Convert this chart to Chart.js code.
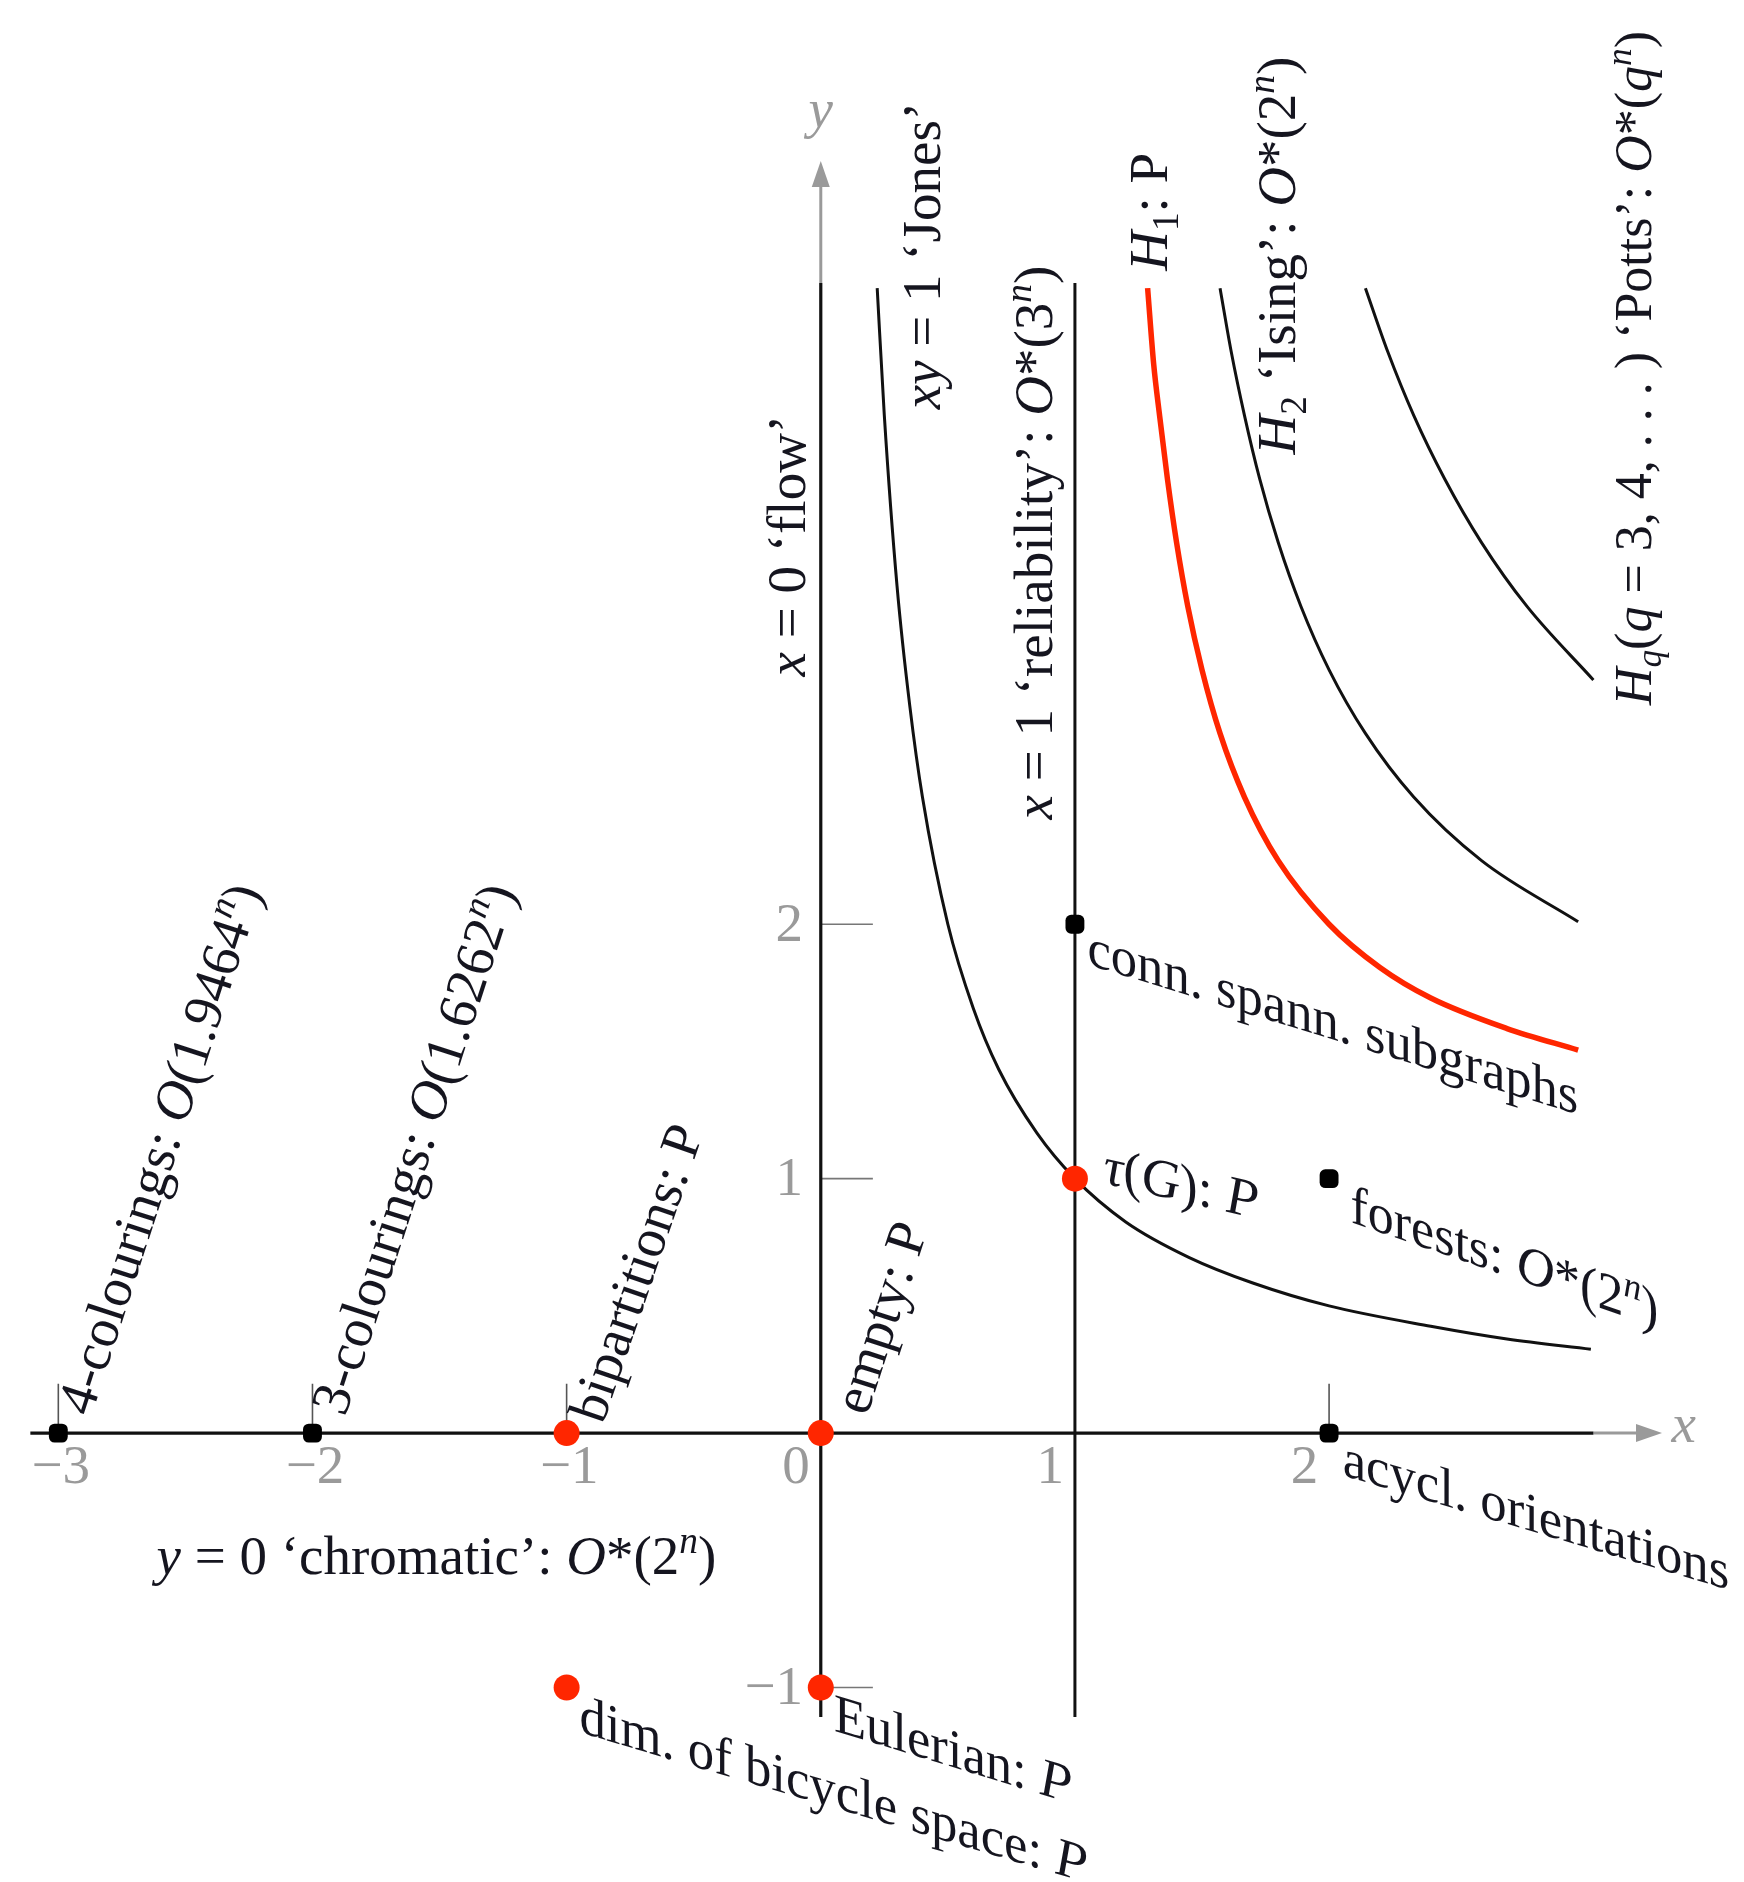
<!DOCTYPE html>
<html><head><meta charset="utf-8">
<script src="https://cdn.jsdelivr.net/npm/chart.js@4.4.1/dist/chart.umd.min.js"></script>
<style>html,body{margin:0;padding:0;background:#fff;}#wrap{width:1744px;height:1882px;position:relative;}</style>
</head><body><div id="wrap"><canvas id="c"></canvas></div>
<script>
// ---- data ----
const jonesCurve = [[0.222,4.5],[0.25,4.0],[0.3,3.33],[0.35,2.86],[0.4,2.5],[0.5,2.0],[0.6,1.67],[0.7,1.43],[0.85,1.18],[1.0,1.0],[1.2,0.83],[1.45,0.69],[1.7,0.59],[2.0,0.5],[2.4,0.42],[2.7,0.37],[3.03,0.33]];
const h1Curve = [[1.286,4.5],[1.31,4.2],[1.333,4.0],[1.364,3.75],[1.4,3.5],[1.444,3.25],[1.5,3.0],[1.571,2.75],[1.667,2.5],[1.8,2.25],[2.0,2.0],[2.2,1.83],[2.4,1.71],[2.7,1.59],[2.98,1.505]];
const h2Curve = [[1.571,4.5],[1.615,4.25],[1.667,4.0],[1.727,3.75],[1.8,3.5],[1.889,3.25],[2.0,3.0],[2.143,2.75],[2.333,2.5],[2.6,2.25],[2.98,2.01]];
const hqCurve = [[2.143,4.5],[2.231,4.25],[2.333,4.0],[2.455,3.75],[2.6,3.5],[2.778,3.25],[3.04,2.96]];
const xAxisLine = [[-3.11,0],[3.04,0]];
const xAxisArrow = [[3.04,0],[3.24,0]];
const yAxisLine = [[0,-1.116],[0,4.52]];
const yAxisArrow = [[0,4.52],[0,4.92]];
const xOneLine = [[1,-1.116],[1,4.52]];
const redPoints = [[-1,0],[0,0],[1,1],[0,-1],[-1,-1]];
const blackPoints = [[-3,0],[-2,0],[2,0],[1,2],[2,1]];
const xTickValues = [-3,-2,-1,0,1,2];
const xTickLabels = ['\u22123','\u22122','\u22121','0','1','2'];
const xTickMarks = [-3,-2,-1,2];
const yTickValues = [2,1,-1];
const yTickLabels = ['2','1','\u22121'];

// annotation texts: [segments], anchor (data coords), angle, shear
const labels = [
  {s:[['x','i'],[' = 0 \u2018flow\u2019','r']], x:-0.128, y:3.488, a:-90},
  {s:[['xy','i'],[' = 1 \u2018Jones\u2019','r']], x:0.403, y:4.628, a:-90},
  {s:[['x','i'],[' = 1 \u2018reliability\u2019: ','r'],['O','i'],['*','r'],['(3','r'],['n','sup'],[')','r']], x:0.846, y:3.5, a:-90},
  {s:[['H','i'],['1','sub'],[': P','r']], x:1.298, y:4.80, a:-90},
  {s:[['H','i'],['2','sub'],[' \u2018Ising\u2019: ','r'],['O','i'],['*','r'],['(2','r'],['n','sup'],[')','r']], x:1.80, y:4.628, a:-90},
  {s:[['H','i'],['q','subi'],['(','r'],['q','i'],[' = 3, 4, . . . ) \u2018Potts\u2019: ','r'],['O','i'],['*','r'],['(','r'],['q','i'],['n','sup'],[')','r']], x:3.205, y:4.186, a:-90, fs:52},
  {s:[['4-colourings: ','r'],['O','i'],['(1.9464','r'],['n','sup'],[')','r']], x:-2.597, y:1.116, a:-72},
  {s:[['3-colourings: ','r'],['O','i'],['(1.6262','r'],['n','sup'],[')','r']], x:-1.597, y:1.116, a:-72},
  {s:[['bipartitions: P','r']], x:-0.721, y:0.628, a:-71},
  {s:[['empty: P','r']], x:0.240, y:0.453, a:-72},
  {s:[['conn. spann. subgraphs','r']], x:2.015, y:1.612, a:17, sh:'v'},
  {s:[['\u03c4','i'],['(','r'],['G','i'],['): ','r'],['P','i']], x:1.419, y:0.976, a:13, sh:'v'},
  {s:[['forests: ','r'],['O','i'],['*','r'],['(2','r'],['n','sup'],[')','r']], x:2.69, y:0.686, a:19, sh:'v'},
  {s:[['acycl. orientations','r']], x:2.814, y:-0.326, a:16.5, sh:'v'},
  {s:[['y','i'],[' = 0 \u2018chromatic\u2019: ','r'],['O','i'],['*','r'],['(2','r'],['n','sup'],[')','r']], x:-1.512, y:-0.488, a:0},
  {s:[['Eulerian: ','r'],['P','i']], x:0.52, y:-1.248, a:17, sh:'v'},
  {s:[['dim. of bicycle space: ','r'],['P','i']], x:0.05, y:-1.407, a:16.5, sh:'v'}
];

const SERIF = '"Liberation Serif","Times New Roman",serif';
const TEXT = '#15151f';
const GRAY = '#9a9a9a';
const RED = 'rgb(255,38,0)';
const FS = 55;

function segFont(m, s){
  const it = (m==='i'||m==='sup'||m==='subi') ? 'italic ' : '';
  const sz = (m==='sup'||m==='sub'||m==='subi') ? s*0.68 : s;
  return it + sz + 'px ' + SERIF;
}
function segDy(m, s){ return m==='sup' ? -0.38*s : (m==='sub'||m==='subi') ? 0.2*s : 0; }
function drawRich(ctx, segs, px, py, ang, shear, size, color, align){
  ctx.save();
  let w = 0; const ws = [];
  segs.forEach(([t,m]) => { ctx.font = segFont(m,size); const ww = ctx.measureText(t).width; ws.push(ww); w += ww; });
  const a = ang*Math.PI/180;
  if (shear === 'v') ctx.setTransform(Math.cos(a), Math.sin(a), 0, 1, px, py);
  else ctx.setTransform(Math.cos(a), Math.sin(a), -Math.sin(a), Math.cos(a), px, py);
  ctx.fillStyle = color; ctx.textBaseline = 'alphabetic'; ctx.textAlign = 'left';
  let x = align==='right' ? -w : (align==='left' ? 0 : -w/2);
  segs.forEach(([t,m],i) => { ctx.font = segFont(m,size); ctx.fillText(t, x, 0.3*size + segDy(m,size)); x += ws[i]; });
  ctx.restore();
}
const pts = arr => arr.map(([x,y]) => ({x,y}));
function lineDs(arr, color, width){
  return {data: pts(arr), showLine:true, borderColor:color, borderWidth:width, pointRadius:0, fill:false, cubicInterpolationMode:'monotone', clip:false, borderCapStyle:'butt'};
}

const decor = {
  id:'decor',
  beforeDatasetsDraw(chart){
    const ctx = chart.ctx, xs = chart.scales.x, ys = chart.scales.y;
    ctx.save();
    ctx.strokeStyle = '#555'; ctx.lineWidth = 1.6;
    xTickMarks.forEach(v => { ctx.beginPath(); ctx.moveTo(xs.getPixelForValue(v), ys.getPixelForValue(0)); ctx.lineTo(xs.getPixelForValue(v), ys.getPixelForValue(0.194)); ctx.stroke(); });
    ctx.strokeStyle = '#777';
    yTickValues.forEach(v => { ctx.beginPath(); ctx.moveTo(xs.getPixelForValue(0), ys.getPixelForValue(v)); ctx.lineTo(xs.getPixelForValue(0.205), ys.getPixelForValue(v)); ctx.stroke(); });
    ctx.restore();
  },
  afterDatasetsDraw(chart){
    const ctx = chart.ctx, xs = chart.scales.x, ys = chart.scales.y;
    ctx.save();
    ctx.fillStyle = GRAY;
    let tx = xs.getPixelForValue(3.31), ty = ys.getPixelForValue(0);
    ctx.beginPath(); ctx.moveTo(tx, ty); ctx.lineTo(tx-26, ty-9); ctx.lineTo(tx-26, ty+9); ctx.closePath(); ctx.fill();
    tx = xs.getPixelForValue(0); ty = ys.getPixelForValue(5.0);
    ctx.beginPath(); ctx.moveTo(tx, ty); ctx.lineTo(tx-9, ty+26); ctx.lineTo(tx+9, ty+26); ctx.closePath(); ctx.fill();
    ctx.restore();
    drawRich(ctx, [['x','i']], xs.getPixelForValue(3.395), ys.getPixelForValue(0.03), 0, false, FS, GRAY, 'center');
    drawRich(ctx, [['y','i']], xs.getPixelForValue(0), ys.getPixelForValue(5.2), 0, false, FS, GRAY, 'center');
    xTickValues.forEach((v,i) => {
      const cx = v < 0 ? v + 0.01 : v - 0.097;
      drawRich(ctx, [[xTickLabels[i],'r']], xs.getPixelForValue(cx), ys.getPixelForValue(-0.13), 0, false, FS, GRAY, 'center');
    });
    yTickValues.forEach((v,i) => {
      drawRich(ctx, [[yTickLabels[i],'r']], xs.getPixelForValue(-0.07), ys.getPixelForValue(v), 0, false, FS, GRAY, 'right');
    });
    labels.forEach(L => drawRich(ctx, L.s, xs.getPixelForValue(L.x), ys.getPixelForValue(L.y), L.a, L.sh || false, L.fs || FS, TEXT, 'center'));
  }
};

new Chart(document.getElementById('c'), {
  type:'scatter',
  data:{datasets:[
    {data:pts(redPoints), pointStyle:'circle', pointRadius:13, backgroundColor:RED, borderColor:RED, borderWidth:0, showLine:false, clip:false},
    {data:pts(blackPoints), pointStyle:'rectRounded', pointRadius:11, backgroundColor:'#000', borderColor:'#000', borderWidth:0, showLine:false, clip:false},
    lineDs(h1Curve, RED, 5.5),
    lineDs(jonesCurve, '#111', 3),
    lineDs(h2Curve, '#111', 3),
    lineDs(hqCurve, '#111', 3),
    lineDs(xAxisLine, '#111', 3.2),
    lineDs(xAxisArrow, GRAY, 3),
    lineDs(yAxisLine, '#111', 3.2),
    lineDs(yAxisArrow, GRAY, 3),
    lineDs(xOneLine, '#111', 3)
  ]},
  options:{
    responsive:true, maintainAspectRatio:false, animation:false,
    layout:{padding:0},
    plugins:{legend:{display:false}, tooltip:{enabled:false}},
    events:[],
    scales:{
      x:{type:'linear', min:-3.1783, max:3.5814, display:false},
      y:{type:'linear', min:-1.7132, max:5.5814, display:false}
    }
  },
  plugins:[decor]
});
</script></body></html>
